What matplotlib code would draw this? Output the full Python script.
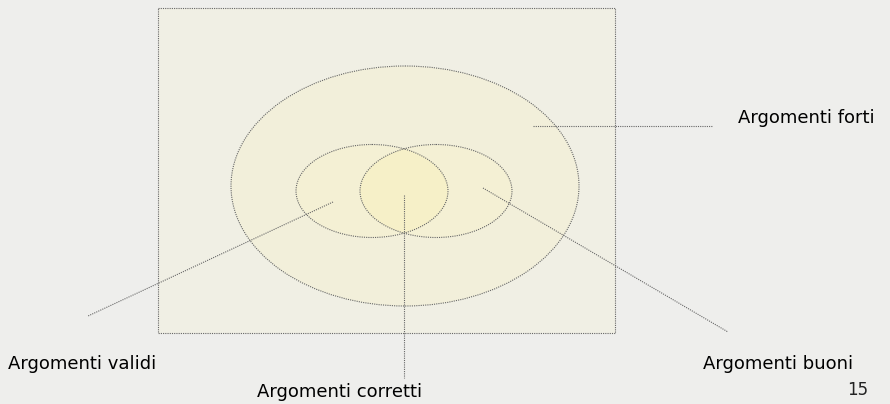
import matplotlib
matplotlib.use("Agg")
from matplotlib import pyplot as plt
from matplotlib.patches import Rectangle, Ellipse

# labels of the diagram
labels = ["Argomenti forti", "Argomenti validi", "Argomenti corretti", "Argomenti buoni"]
page_number = "15"

fig = plt.figure(figsize=(8.9, 4.04), dpi=100)
ax = fig.add_axes([0, 0, 1, 1])
ax.set_xlim(0, 890)
ax.set_ylim(404, 0)
ax.axis("off")
fig.patch.set_facecolor("#eeeeec")

dot = dict(edgecolor="#666666", linestyle=(0, (1, 1)), linewidth=0.8)

# outer box
ax.add_patch(Rectangle((158, 8), 457, 325, facecolor="#f0efe4", **dot))
# big ellipse (forti)
ax.add_patch(Ellipse((405, 186), 348, 240, facecolor="#f2efda", **dot))
# two small ellipses (validi / buoni), fill only
ax.add_patch(Ellipse((372, 191), 152, 93, facecolor="#f4f0d4", edgecolor="none"))
ax.add_patch(Ellipse((436, 191), 152, 93, facecolor="#f4f0d4", edgecolor="none"))
# intersection, brighter
lens = Ellipse((372, 191), 152, 93, facecolor="#f6f0c8", edgecolor="none")
ax.add_patch(lens)
clip = Ellipse((436, 191), 152, 93, transform=ax.transData)
lens.set_clip_path(clip)
# outlines
ax.add_patch(Ellipse((372, 191), 152, 93, facecolor="none", **dot))
ax.add_patch(Ellipse((436, 191), 152, 93, facecolor="none", **dot))

# pointer lines
lk = dict(color="#666666", linestyle=(0, (1, 1)), linewidth=0.8)
ax.plot([533, 713], [126, 126], **lk)
ax.plot([333, 88], [202, 316], **lk)
ax.plot([404, 404], [195, 378], **lk)
ax.plot([483, 728], [188, 332], **lk)

fs = 13
ax.text(738, 118, labels[0], fontsize=fs, va="center", ha="left")
ax.text(8, 364, labels[1], fontsize=fs, va="center", ha="left")
ax.text(340, 392, labels[2], fontsize=fs, va="center", ha="center")
ax.text(703, 364, labels[3], fontsize=fs, va="center", ha="left")
ax.text(858, 390, page_number, fontsize=12, va="center", ha="center", color="#222222")

fig.savefig("out.png", dpi=100, facecolor=fig.get_facecolor())
